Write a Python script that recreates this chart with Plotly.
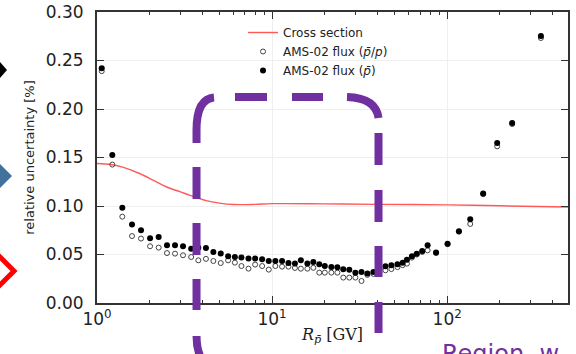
import numpy as np
import plotly.graph_objects as go

# ---------------- data ----------------
rigidity = [1.064, 1.223, 1.395, 1.585, 1.784, 2.01, 2.25, 2.51, 2.79, 3.10,
            3.45, 3.79, 4.19, 4.62, 5.09, 5.61, 6.13, 6.68, 7.33, 8.0,
            8.77, 9.57, 10.44, 11.4, 12.4, 13.5, 14.6, 15.9, 17.2, 18.6,
            20.0, 21.8, 23.6, 25.5, 27.6, 29.9, 32.4, 35.0, 37.9, 41.0,
            44.4, 48.0, 52.0, 55.7, 58.9, 62.9, 67.0, 72.0, 77.3, 86.4,
            100.5, 116.7, 135.4, 160.5, 193.0, 235.0, 343.0]

flux_pbar = [0.242, 0.1526, 0.0983, 0.0808, 0.075, 0.0667, 0.068, 0.0595, 0.0595, 0.0585,
             0.056, 0.057, 0.0567, 0.0526, 0.051, 0.0481, 0.0474, 0.0468, 0.0458, 0.0458,
             0.045, 0.0433, 0.0433, 0.0433, 0.0412, 0.0406, 0.044, 0.0406, 0.0423, 0.0399,
             0.0381, 0.0371, 0.0368, 0.0347, 0.0344, 0.0313, 0.032, 0.0303, 0.032, 0.035,
             0.0378, 0.0389, 0.0399, 0.0416, 0.0447, 0.0481, 0.0509, 0.0536, 0.0595, 0.052,
             0.0612, 0.0739, 0.0863, 0.1128, 0.165, 0.1856, 0.2753]

flux_ratio = [0.239, 0.1427, 0.089, 0.069, 0.0664, 0.0585, 0.0571, 0.0515, 0.0509, 0.0492,
              0.0474, 0.044, 0.0455, 0.0433, 0.0412, 0.044, 0.0416, 0.0381, 0.0354, 0.0396,
              0.0381, 0.0344, 0.0381, 0.0375, 0.0375, 0.0361, 0.0354, 0.0354, 0.0363, 0.0313,
              0.0313, 0.0313, 0.0313, 0.0262, 0.0262, 0.0262, 0.0227, 0.029, 0.030, 0.032,
              0.0337, 0.035, 0.037, 0.039, 0.0406, 0.0468, 0.050, 0.0526, 0.0543, 0.0516,
              0.0606, 0.0735, 0.0815, 0.1122, 0.1615, 0.1845, 0.2732]

xs_rigidity = [1.0, 1.2, 1.4, 1.75, 2.1, 2.5, 3.0, 3.4, 4.2, 5.0, 6.0, 8.0,
               10.0, 20.0, 40.0, 100.0, 200.0, 500.0]
xs_uncert = [0.1438, 0.1428, 0.1400, 0.1335, 0.1265, 0.1196, 0.1145, 0.1110, 0.1055,
             0.1030, 0.1015, 0.1017, 0.1024, 0.1022, 0.1017, 0.1012, 0.1002, 0.0990]

x_tickvals = [1, 10, 100]
x_ticktext = ["10<sup>0</sup>", "10<sup>1</sup>", "10<sup>2</sup>"]
x_minor = [2, 3, 4, 5, 6, 7, 8, 9, 20, 30, 40, 50, 60, 70, 80, 90, 200, 300, 400]
y_tickvals = [0.0, 0.05, 0.10, 0.15, 0.20, 0.25, 0.30]
y_ticktext = ["0.00", "0.05", "0.10", "0.15", "0.20", "0.25", "0.30"]

# ---------------- figure ----------------
W, H = 576, 354
ML, MR, MT, MB = 97, 8, 12, 51
PW, PH = W - ML - MR, H - MT - MB

fig = go.Figure()
fig.add_trace(go.Scatter(
    x=xs_rigidity, y=xs_uncert, mode="lines", name="Cross section",
    line=dict(color="#ff5a5a", width=1.4, shape="spline"),
))
fig.add_trace(go.Scatter(
    x=rigidity, y=flux_ratio, mode="markers",
    name="AMS-02 flux (<i>p̄</i>/<i>p</i>)",
    marker=dict(symbol="circle-open", size=5, color="#444", line=dict(width=1, color="#444")),
))
fig.add_trace(go.Scatter(
    x=rigidity, y=flux_pbar, mode="markers",
    name="AMS-02 flux (<i>p̄</i>)",
    marker=dict(symbol="circle", size=6, color="#000"),
))

axis_common = dict(
    automargin=False,
    showline=True, linecolor="#333", linewidth=2, mirror="ticks",
    ticks="inside", ticklen=7, tickwidth=1.3, tickcolor="#333",
    showgrid=True, gridcolor="#efefef", gridwidth=1, zeroline=False,
    tickfont=dict(family="DejaVu Sans", size=17, color="#222"),
)

fig.update_xaxes(
    type="log", range=[0, 2.69], tickmode="array",
    tickvals=x_tickvals, ticktext=x_ticktext,
    minor=dict(tickmode="array", tickvals=x_minor, ticks="inside", ticklen=3,
               tickcolor="#333", tickwidth=1, showgrid=False),
    title=dict(text="<i>R</i><sub><i>p̄</i></sub> [GV]", standoff=0,
               font=dict(family="DejaVu Serif", size=16, color="#222")),
    **axis_common,
)
fig.update_yaxes(
    range=[0, 0.30], tickmode="array", tickvals=y_tickvals, ticktext=y_ticktext,
    ticklabelstandoff=8,
    title=dict(text="relative uncertainty [%]", standoff=8,
               font=dict(family="DejaVu Sans", size=13, color="#222")),
    **axis_common,
)


def px(x, y):
    return (x - ML) / PW, (H - MB - y) / PH


def path(cmds):
    out = []
    for c in cmds:
        if isinstance(c, str):
            out.append(c)
        else:
            a, b = px(*c)
            out.append(f"{a:.4f},{b:.4f}")
    return " ".join(out)


purple = "#7030A0"
dash_paths = [
    ["M", (196.5, 143), "L", (196.5, 130), "Q", (196.5, 99), (214, 97.5)],
    ["M", (235, 97), "L", (267, 97)],
    ["M", (292, 97), "L", (323, 97)],
    ["M", (347, 97), "Q", (376, 98), (378.5, 118)],
    ["M", (378.5, 133), "L", (378.5, 165)],
    ["M", (378.5, 190), "L", (378.5, 222)],
    ["M", (378.5, 246), "L", (378.5, 277)],
    ["M", (378.5, 302), "L", (378.5, 333)],
    ["M", (196.5, 167), "L", (196.5, 199)],
    ["M", (196.5, 223), "L", (196.5, 255)],
    ["M", (196.5, 279), "L", (196.5, 310)],
    ["M", (196.5, 336), "Q", (196.5, 356), (207, 366)],
]
shapes = []
for p in dash_paths:
    shapes.append(dict(type="path", xref="paper", yref="paper", path=path(p),
                       line=dict(color=purple, width=8), layer="above"))

# slide decorations at the left edge
shapes.append(dict(type="path", xref="paper", yref="paper",
                   path=path(["M", (-8, 70), "L", (0, 62), "L", (7, 70), "L", (0, 78), "Z"]),
                   fillcolor="#000", line=dict(width=0)))
shapes.append(dict(type="path", xref="paper", yref="paper",
                   path=path(["M", (-12, 176), "L", (0, 164), "L", (12, 176), "L", (0, 188), "Z"]),
                   fillcolor="#41719C", line=dict(width=0)))
shapes.append(dict(type="path", xref="paper", yref="paper",
                   path=path(["M", (-14, 271), "L", (0, 257), "L", (14, 271), "L", (0, 285), "Z"]),
                   fillcolor="rgba(0,0,0,0)", line=dict(color="#ff0000", width=5)))

ax, ay = px(440, 338)
fig.update_layout(
    width=W, height=H,
    margin=dict(l=ML, r=MR, t=MT, b=MB, autoexpand=False),
    paper_bgcolor="white", plot_bgcolor="white",
    showlegend=True,
    legend=dict(x=(243 - ML) / PW, y=px(0, 18)[1], xanchor="left", yanchor="top",
                bgcolor="rgba(0,0,0,0)", borderwidth=0,
                font=dict(family="DejaVu Sans", size=12, color="#222"),
                tracegroupgap=0),
    shapes=shapes,
    annotations=[dict(text="Region, w", xref="paper", yref="paper", x=ax, y=ay,
                      xanchor="left", yanchor="top", showarrow=False,
                      font=dict(family="DejaVu Sans", size=24, color=purple))],
)

fig.write_html("out.html", config={"displayModeBar": False},
               post_script="document.body.style.margin='0';document.body.style.overflow='hidden';")
